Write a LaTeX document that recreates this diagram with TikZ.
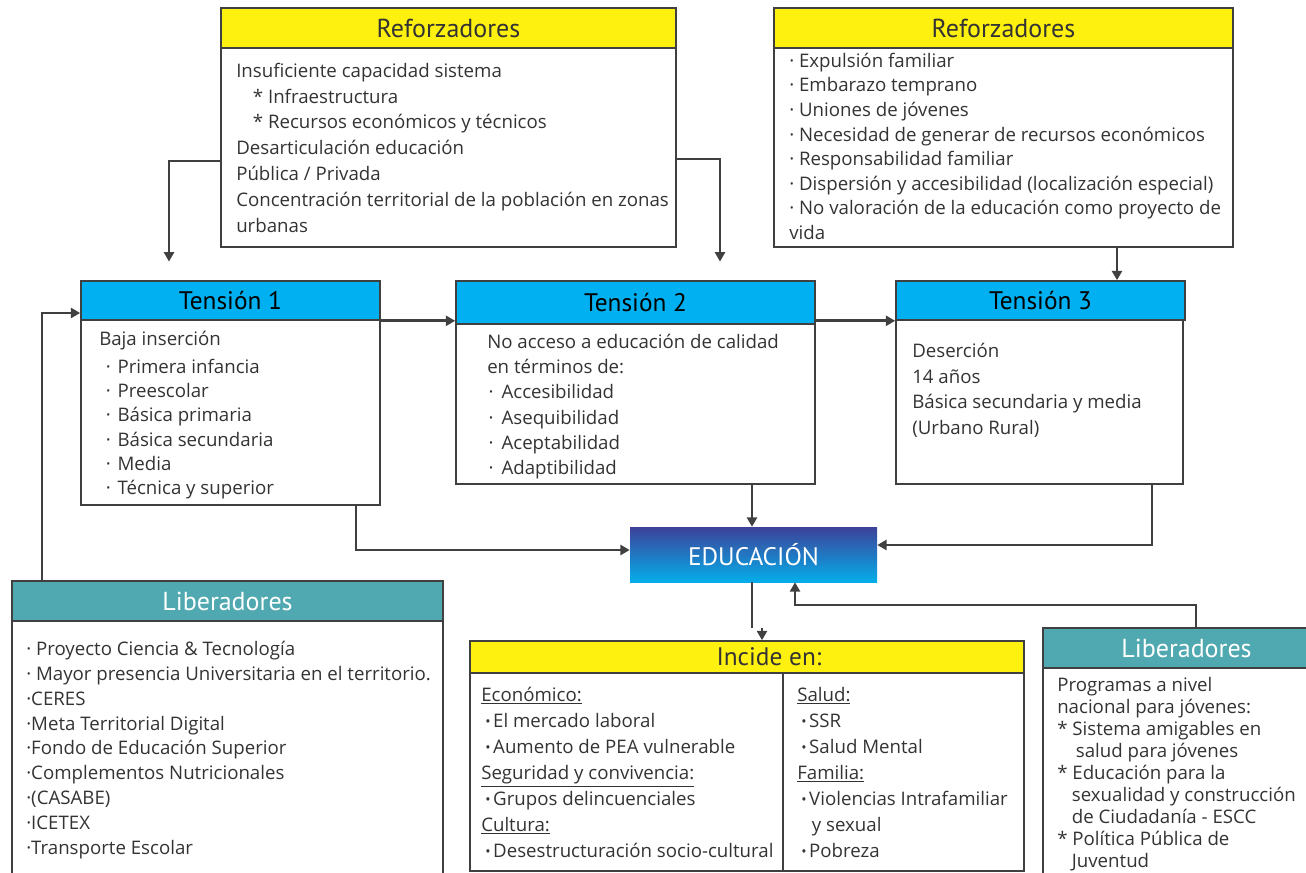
\documentclass[tikz,border=0pt]{standalone}
\usepackage{fontspec}
\setmainfont{Open Sans}
\newfontfamily\hdrfont{PT Sans}
\usetikzlibrary{arrows.meta,fit}
\definecolor{refyellow}{HTML}{FFF10F}
\definecolor{tencyan}{HTML}{00B0F0}
\definecolor{libteal}{HTML}{50A8B0}
\definecolor{linegray}{HTML}{404040}
\definecolor{txtgray}{HTML}{333333}
\definecolor{edutop}{HTML}{3D4199}
\definecolor{edubot}{HTML}{05AEEA}
\newcommand{\smallbul}{\raisebox{0.6pt}{\scalebox{0.75}{•}}}

\begin{document}
\begin{tikzpicture}[x=0.75pt, y=-0.75pt,
        box/.style={draw=linegray, line width=1.2pt, inner sep=0pt},
        lbl/.style={inner sep=0pt, text=txtgray, font=\hdrfont\fontsize{19.5}{21}\selectfont},
        hdr/.style={box, label={[lbl]center:{#1}}},
        hdrk/.style={box, label={[lbl, text=black, font=\hdrfont\fontsize{19}{21}\selectfont]center:{#1}}},
        hdrw/.style={box, label={[lbl, text=white]center:{#1}}},
        txt/.style={anchor=north west, inner sep=0pt, align=left, text=txtgray},
        arr/.style={draw=linegray, line width=2pt, -{Triangle[length=7pt,width=7.5pt]}},
        ln/.style={draw=linegray, line width=2pt}]
        \useasboundingbox (0,0) rectangle (1306,872);
        \clip (0,0) rectangle (1306,872);

        % reforzadores
        \node[hdr=Reforzadores, fill=refyellow, fit={(221,8) (676,48)}] (ref1h) {};
        \node[box, fit={(221,48) (676,247)}] (ref1b) {};
        \node[txt, font=\fontsize{14}{19.35}\selectfont] (ref1t) at (236,59)
            {\strut Insuficiente capacidad sistema\\
             \hspace*{12.5pt}* Infraestructura\\
             \hspace*{12.5pt}* Recursos económicos y técnicos\\
             Desarticulación educación\\
             Pública / Privada\\
             Concentración territorial de la población en zonas\\
             urbanas};

        \node[hdr=Reforzadores, fill=refyellow, fit={(774,8) (1233,48)}] (ref2h) {};
        \node[box, fit={(774,48) (1233,247)}] (ref2b) {};
        \node[txt, font=\fontsize{14}{18.4}\selectfont] (ref2t) at (789,50)
            {\strut · Expulsión familiar\\
             · Embarazo temprano\\
             · Uniones de jóvenes\\
             · Necesidad de generar de recursos económicos\\
             · Responsabilidad familiar\\
             · Dispersión y accesibilidad (localización especial)\\
             · No valoración de la educación como proyecto de\\
             vida};

        % tensiones
        \node[hdrk=Tensión 1, fill=tencyan, fit={(81,281) (380,320)}] (t1h) {};
        \node[box, fit={(81,320) (380,505)}] (t1b) {};
        \node[txt, font=\fontsize{14}{18.15}\selectfont] (t1t) at (99,328)
            {\strut Baja inserción\\[3pt]
             \hspace*{5pt}·\hspace{5pt}Primera infancia\\
             \hspace*{5pt}·\hspace{5pt}Preescolar\\
             \hspace*{5pt}·\hspace{5pt}Básica primaria\\
             \hspace*{5pt}·\hspace{5pt}Básica secundaria\\
             \hspace*{5pt}·\hspace{5pt}Media\\
             \hspace*{5pt}·\hspace{5pt}Técnica y superior};

        \node[hdrk=Tensión 2, fill=tencyan, fit={(456,281) (815,324)}] (t2h) {};
        \node[box, fit={(456,324) (815,484)}] (t2b) {};
        \node[txt, font=\fontsize{14}{18.9}\selectfont] (t2t) at (487,330.5)
            {\strut No acceso a educación de calidad\\
             en términos de:\\
             \hspace*{1pt}·\hspace{6pt}Accesibilidad\\
             \hspace*{1pt}·\hspace{6pt}Asequibilidad\\
             \hspace*{1pt}·\hspace{6pt}Aceptabilidad\\
             \hspace*{1pt}·\hspace{6pt}Adaptibilidad};

        \node[hdrk=Tensión 3, fill=tencyan, fit={(896,281) (1185,320)}] (t3h) {};
        \node[box, fit={(896,320) (1183,484)}] (t3b) {};
        \node[txt, font=\fontsize{14}{19.3}\selectfont] (t3t) at (912,339)
            {\strut Deserción\\
             14 años\\
             Básica secundaria y media\\
             (Urbano Rural)};

        % educacion
        \node[inner sep=0pt, top color=edutop, bottom color=edubot, fit={(630,527) (877,582)},
              label={[lbl, text=white, font=\hdrfont\fontsize{19}{21}\selectfont]center:EDUCACIÓN}] (edu) {};

        % liberadores
        \node[hdrw=Liberadores, fill=libteal, fit={(12,581) (443,621)}] (lib1h) {};
        \node[box, fit={(12,621) (443,890)}] (lib1b) {};
        \node[txt, font=\fontsize{14}{18.7}\selectfont] (lib1t) at (26,637.5)
            {\strut · Proyecto Ciencia \& Tecnología\\
             · Mayor presencia Universitaria en el territorio.\\
             ·CERES\\
             ·Meta Territorial Digital\\
             ·Fondo de Educación Superior\\
             ·Complementos Nutricionales\\
             ·(CASABE)\\
             ·ICETEX\\
             ·Transporte Escolar};

        \node[hdrw=Liberadores, fill=libteal, fit={(1043,628) (1330,668)}] (lib2h) {};
        \node[box, fit={(1043,668) (1330,890)}] (lib2b) {};
        \node[txt, font=\fontsize{14}{16.5}\selectfont] (lib2t) at (1057,675.5)
            {\strut Programas a nivel\\
             nacional para jóvenes:\\
             * Sistema amigables en\\
             \hspace*{14pt}salud para jóvenes\\
             * Educación para la\\
             \hspace*{11pt}sexualidad y construcción\\
             \hspace*{11pt}de Ciudadanía - ESCC\\
             * Política Pública de\\
             \hspace*{11pt}Juventud};

        % incide en
        \node[box, fill=refyellow, fit={(470,641) (1024,673)},
              label={[lbl, font=\hdrfont\fontsize{19}{21}\selectfont, xshift=16.5pt]center:{Incide en:}}] (inch) {};
        \node[box, fit={(470,673) (1024,871)}] (incb) {};
        \draw[box] (inch.south -| 783,0) -- (incb.south -| 783,0);
        \node[txt, font=\fontsize{14}{19.5}\selectfont] (inct1) at (481,683)
            {\strut\underline{Económico:}\\
             \hspace*{3pt}\smallbul\hspace{2pt}El mercado laboral\\
             \hspace*{3pt}\smallbul\hspace{2pt}Aumento de PEA vulnerable\\
             \underline{Seguridad y convivencia:}\\
             \hspace*{3pt}\smallbul\hspace{2pt}Grupos delincuenciales\\
             \underline{Cultura:}\\
             \hspace*{3pt}\smallbul\hspace{2pt}Desestructuración socio-cultural};
        \node[txt, font=\fontsize{14}{19.5}\selectfont] (inct2) at (797,683)
            {\strut\underline{Salud:}\\
             \hspace*{3pt}\smallbul\hspace{2pt}SSR\\
             \hspace*{3pt}\smallbul\hspace{2pt}Salud Mental\\
             \underline{Familia:}\\
             \hspace*{3pt}\smallbul\hspace{2pt}Violencias Intrafamiliar\\
             \hspace*{11pt}y sexual\\
             \hspace*{3pt}\smallbul\hspace{2pt}Pobreza};

        % conectores
        \draw[arr, shorten >=14pt] (ref1b.west |- 0,161) -| (t1h.north -| 169,0);
        \draw[arr, shorten >=14pt] (ref1b.east |- 0,159) -| (t2h.north -| 720,0);
        \draw[arr] (ref2b.south -| 1117,0) -- (t3h.north -| 1117,0);
        \draw[arr] (lib1h.north -| 42,0) |- (t1h.west |- 0,313);
        \draw[arr] (t1h.south east) -- (t2h.west |- t1h.south east);
        \draw[arr] (t2h.east |- t3h.south west) -- (t3h.south west);
        \draw[arr] (t1b.south -| 356,0) |- (edu.west |- 0,550);
        \draw[arr] (t2b.south -| 752,0) -- (edu.north -| 752,0);
        \draw[arr] (t3b.south -| 1152,0) |- (edu.east |- 0,545);
        \coordinate (bend) at (752,628);
        \draw[ln] (edu.south -| 752,589) -- (bend);
        \draw[arr] (bend -| 762,0) -- (inch.north -| 762,0);
        \draw[arr] (lib2h.north -| 1196,0) -- (1196,605) -| (edu.south -| 795,0);
    \end{tikzpicture}
\end{document}
